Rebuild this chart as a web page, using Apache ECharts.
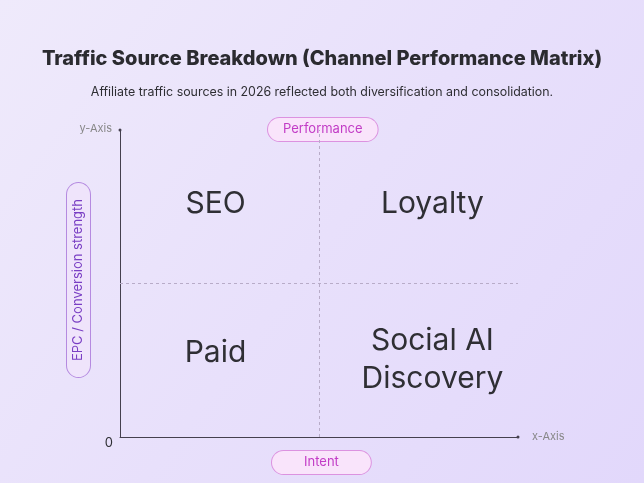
<!DOCTYPE html>
<html lang="en">
<head>
    <meta charset="UTF-8">
    <title>Traffic Source Breakdown</title>
    <script src="https://cdn.jsdelivr.net/npm/echarts@6/dist/echarts.min.js"></script>
    <style>
        html, body { margin: 0; padding: 0; }
        #main { width: 644px; height: 483px; }
    </style>
</head>
<body>
<div id="main"></div>

<script>
    // quadrant labels and where they sit on the 0..2 matrix
    const quadrantNames = ['SEO', 'Loyalty', 'Paid', 'Social AI\nDiscovery'];
    const quadrantX = [0.48, 1.57, 0.48, 1.57];
    const quadrantY = [1.52, 1.52, 0.55, 0.50];

    // axis extent and the dividers between quadrants
    const axisMax = 2;
    const dividerX = 1;
    const dividerY = 1;

    const myChart = echarts.init(document.getElementById('main'));

    const points = quadrantNames.map(function (name, i) {
        return { name: name, value: [quadrantX[i], quadrantY[i]] };
    });

    myChart.setOption({
        backgroundColor: {
            type: 'linear', x: 0, y: 0, x2: 1, y2: 1,
            colorStops: [
                { offset: 0, color: '#efeafb' },
                { offset: 0.5, color: '#e8e0fb' },
                { offset: 1, color: '#e2d8fb' }
            ]
        },
        title: [{
            text: 'Traffic Source Breakdown (Channel Performance Matrix)',
            left: 'center',
            top: 44,
            textStyle: { fontFamily: 'Inter', fontSize: 20, fontWeight: 800, color: '#2b2b30' }
        }, {
            text: 'Affiliate traffic sources in 2026 reflected both diversification and consolidation.',
            left: 'center',
            top: 81,
            textStyle: { fontFamily: 'Inter', fontSize: 12.4, fontWeight: 'normal', color: '#2e2e33' }
        }],
        grid: { left: 120, right: 126, top: 130, bottom: 46 },
        xAxis: {
            type: 'value',
            min: 0,
            max: axisMax,
            name: 'x-Axis',
            nameGap: 14,
            nameTextStyle: { fontFamily: 'Inter', fontSize: 11, color: '#888' },
            axisLine: { show: true, symbol: ['none', 'circle'], symbolSize: [3, 3], lineStyle: { color: '#45404e', width: 1 } },
            axisTick: { show: false },
            axisLabel: { show: false },
            splitLine: { show: false }
        },
        yAxis: {
            type: 'value',
            min: 0,
            max: axisMax,
            interval: 1,
            name: 'y-Axis',
            nameLocation: 'end',
            nameGap: -4,
            nameTextStyle: { fontFamily: 'Inter', fontSize: 11, color: '#888', align: 'right', padding: [0, 8, 0, 0] },
            axisLine: { show: true, symbol: ['none', 'circle'], symbolSize: [3, 3], lineStyle: { color: '#45404e', width: 1 } },
            axisTick: { show: false },
            axisLabel: {
                fontFamily: 'Inter', fontSize: 13, color: '#2e2e33', margin: 7,
                verticalAlign: 'top',
                formatter: function (v) { return v === 0 ? '0' : ''; }
            },
            splitLine: { show: false }
        },
        series: [{
            type: 'scatter',
            data: points,
            symbolSize: 0,
            silent: true,
            itemStyle: { opacity: 1 },
            label: {
                show: true,
                position: 'inside',
                formatter: '{b}',
                fontFamily: 'Inter',
                fontSize: 30,
                lineHeight: 38,
                color: '#2f2f34',
                opacity: 1
            },
            markLine: {
                silent: true,
                symbol: 'none',
                label: { show: false },
                lineStyle: { type: [3, 3], color: '#b8acc8', width: 1 },
                data: [{ xAxis: dividerX }, { yAxis: dividerY }]
            }
        }],
        graphic: [{
            type: 'text',
            left: 267,
            top: 117,
            style: {
                text: 'Performance',
                fontFamily: 'Inter', fontSize: 13, fill: '#c23cc6',
                backgroundColor: '#f9e4fb', borderColor: '#dc92e0', borderWidth: 1,
                borderRadius: 12, padding: [5, 15, 5, 15]
            }
        }, {
            type: 'text',
            left: 271,
            top: 450,
            style: {
                text: 'Intent',
                fontFamily: 'Inter', fontSize: 13, fill: '#c23cc6',
                backgroundColor: '#f9e4fb', borderColor: '#dc92e0', borderWidth: 1,
                borderRadius: 12, padding: [5, 32, 5, 32]
            }
        }, {
            type: 'text',
            x: 67,
            y: 377,
            rotation: Math.PI / 2,
            style: {
                text: 'EPC / Conversion strength',
                fontFamily: 'Inter', fontSize: 13, fill: '#7a3fc4',
                backgroundColor: '#efe4fb', borderColor: '#b58ae0', borderWidth: 1,
                borderRadius: 12, padding: [5, 16, 5, 16]
            }
        }]
    });
</script>
</body>
</html>
